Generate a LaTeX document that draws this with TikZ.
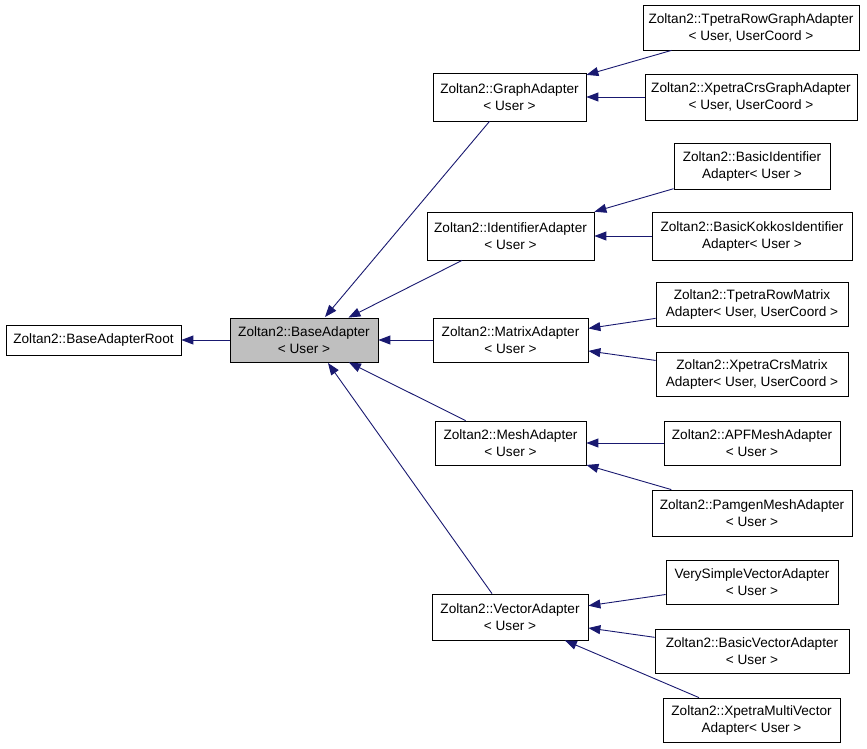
\documentclass[tikz,border=0pt]{standalone}
\usepackage{fontspec}
\setmainfont{Liberation Sans}
\usetikzlibrary{arrows.meta}
\definecolor{edge}{HTML}{191970}
\begin{document}
\begin{tikzpicture}[x=1pt,y=-1pt,
  box/.style={draw=black,line width=0.8pt,fill=white,inner sep=0pt,align=center,font=\fontsize{13.6}{17}\selectfont},
  inh/.style={draw=edge,line width=0.9pt,-{Triangle[width=9pt,length=12pt]},fill=none}]
\useasboundingbox (0,0) rectangle (867,749);
\newcommand\bx[6]{\node[box,minimum width=#4-#2,minimum height=#5-#3] (#1) at ({(#2+#4)/2},{(#3+#5)/2}) {#6};}
\bx{root}{6}{325}{181}{355}{Zoltan2::BaseAdapterRoot}
\node[box,fill={rgb,255:red,191;green,191;blue,191},minimum width=148,minimum height=44] (base) at (304,340) {Zoltan2::BaseAdapter\\< User >};
\bx{graph}{433}{73}{586}{121}{Zoltan2::GraphAdapter\\< User >}
\bx{ident}{427}{212}{594}{260}{Zoltan2::IdentifierAdapter\\< User >}
\bx{matrix}{433}{318}{588}{362}{Zoltan2::MatrixAdapter\\< User >}
\bx{mesh}{435}{421}{586}{465}{Zoltan2::MeshAdapter\\< User >}
\bx{vector}{432}{594}{588}{640}{Zoltan2::VectorAdapter\\< User >}
\bx{trg}{643}{5}{859}{50}{Zoltan2::TpetraRowGraphAdapter\\< User, UserCoord >}
\bx{xcg}{645}{74}{857}{120}{Zoltan2::XpetraCrsGraphAdapter\\< User, UserCoord >}
\bx{bid}{674}{143}{830}{189}{Zoltan2::BasicIdentifier\\Adapter< User >}
\bx{bkid}{652}{212}{852}{260}{Zoltan2::BasicKokkosIdentifier\\Adapter< User >}
\bx{trm}{656}{282}{848}{326}{Zoltan2::TpetraRowMatrix\\Adapter< User, UserCoord >}
\bx{xcm}{656}{352}{848}{396}{Zoltan2::XpetraCrsMatrix\\Adapter< User, UserCoord >}
\bx{apf}{664}{421}{840}{465}{Zoltan2::APFMeshAdapter\\< User >}
\bx{pam}{652}{490}{852}{536}{Zoltan2::PamgenMeshAdapter\\< User >}
\bx{vsv}{666}{560}{838}{604}{VerySimpleVectorAdapter\\< User >}
\bx{bv}{655}{629}{849}{673}{Zoltan2::BasicVectorAdapter\\< User >}
\bx{xmv}{663}{698}{840}{742}{Zoltan2::XpetraMultiVector\\Adapter< User >}
\draw[inh] (base) -- (root);
\draw[inh] (graph.south) ++(-20,0) coordinate (g1) (g1) -- (325,317);
\draw[inh] (ident) -- (base);
\draw[inh] (matrix) -- (base);
\draw[inh] (mesh) -- (base);
\draw[inh] (vector.north) ++(-18,0) coordinate (v1) (v1) -- (328,363);
\draw[inh] (trg) -- (graph);
\draw[inh] (xcg) -- (graph);
\draw[inh] (bid) -- (ident);
\draw[inh] (bkid) -- (ident);
\draw[inh] (trm) -- (matrix);
\draw[inh] (xcm) -- (matrix);
\draw[inh] (apf) -- (mesh);
\draw[inh] (pam) -- (mesh);
\draw[inh] (vsv) -- (vector);
\draw[inh] (bv) -- (vector);
\draw[inh] (xmv) -- (vector);
\end{tikzpicture}
\end{document}
